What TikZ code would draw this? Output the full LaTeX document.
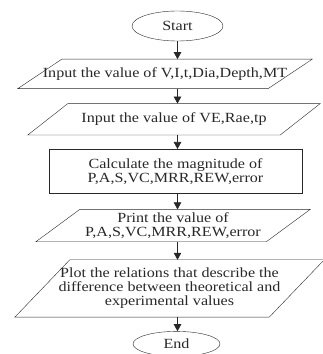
\documentclass[tikz,border=0pt]{standalone}
\usepackage{fontspec}
\setmainfont[FakeStretch=1.15]{Liberation Serif}
\usepackage{tikz}
\usetikzlibrary{arrows.meta,positioning,shapes.geometric,calc}
\usepackage{xcolor}
\definecolor{ink}{RGB}{40,40,40}

\begin{document}
\begin{tikzpicture}[x=1pt,y=1pt,
  term/.style={draw=ink,ellipse,inner sep=0pt,font=\fontsize{14}{14}\selectfont,text=ink},
  io/.style={rectangle,inner sep=0pt,align=center,
    font=\fontsize{14}{14}\selectfont,text=ink},
  proc/.style={draw=ink,rectangle,inner sep=0pt,align=center,
    font=\fontsize{14}{14}\selectfont,text=ink},
  flow/.style={draw=ink,line width=0.7pt,-{Triangle[length=7pt,width=7.5pt]}}]
\useasboundingbox (0,0) rectangle (323,354);
\node[term,minimum width=91pt,minimum height=30pt] (start) at (177.5,328) {Start};
\node[io,below=18pt of start,xshift=-12.5pt,minimum width=250pt,minimum height=29pt] (inp1)
{Input the value of V,I,t,Dia,Depth,MT};
\node[io,below=15pt of inp1,xshift=9pt,minimum width=252pt,minimum height=31pt] (inp2)
{Input the value of VE,Rae,tp};
\node[proc,below=14pt of inp2,xshift=1.5pt,minimum width=253pt,minimum height=44pt] (calc)
{Calculate the magnitude of\\P,A,S,VC,MRR,REW,error};
\node[io,below=16pt of calc,xshift=-2.5pt,minimum width=230pt,minimum height=32pt] (prnt)
{Print the value of\\P,A,S,VC,MRR,REW,error};
\node[io,below=18pt of prnt,xshift=-3.5pt,minimum width=254pt,minimum height=57pt] (plot)
{Plot the relations that describe the\\difference between theoretical and\\experimental values};
\node[term,below=14pt of plot,xshift=7pt,minimum width=87pt,minimum height=25pt] (end) {End};
% slanted input/output boxes
\foreach \n/\o in {inp1/22,inp2/20,prnt/22,plot/27.5}
  \draw[ink] ($(\n.south west)+(-\o,0)$) -- ($(\n.south east)+(-\o,0)$)
    -- ($(\n.north east)+(\o,0)$) -- ($(\n.north west)+(\o,0)$) -- cycle;
% arrows down the middle
\foreach \a/\b in {start/inp1,inp1/inp2,inp2/calc,calc/prnt,prnt/plot,plot/end}
  \draw[flow] (\a.south -| start) -- (\b.north -| start);
\end{tikzpicture}
\end{document}
